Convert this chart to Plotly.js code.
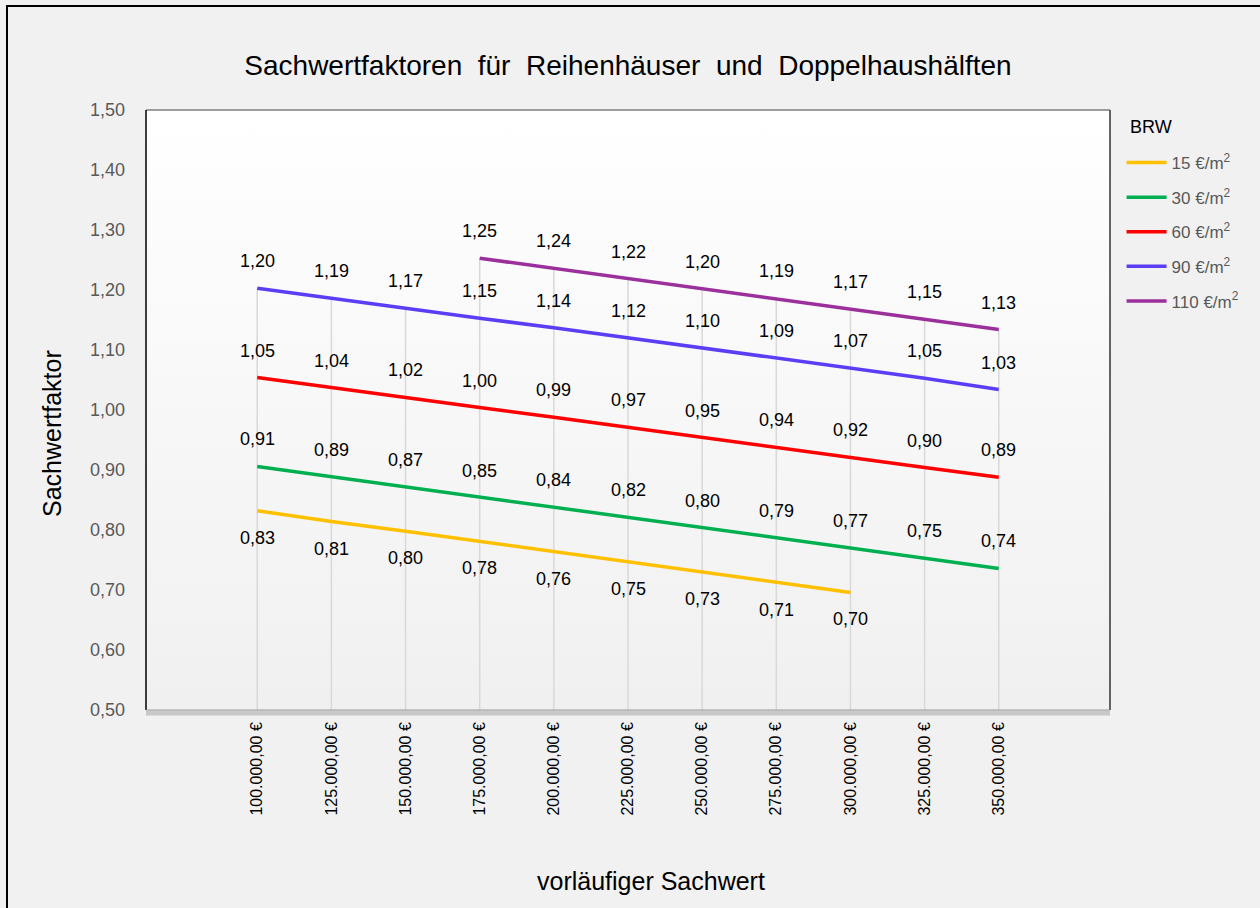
<!DOCTYPE html>
<html>
<head>
<meta charset="utf-8">
<script src="https://cdn.plot.ly/plotly-3.0.1.min.js"></script>
<style>
html,body{margin:0;padding:0;background:#f1f1f1;}
#chart{width:1260px;height:908px;}
#frame{position:absolute;left:6px;top:5px;width:1300px;height:1000px;border-left:2px solid #000;border-top:2px solid #000;pointer-events:none;}
</style>
</head>
<body>
<div id="chart"></div>
<div id="frame"></div>
<script>
// ---- data ----
const sachwert = [100000,125000,150000,175000,200000,225000,250000,275000,300000,325000,350000];
const tickLabels = ["100.000,00 €","125.000,00 €","150.000,00 €","175.000,00 €","200.000,00 €","225.000,00 €","250.000,00 €","275.000,00 €","300.000,00 €","325.000,00 €","350.000,00 €"];
// line values
const brw15  = [0.832,0.814,0.798,0.781,0.764,0.747,0.730,0.712,0.696,null,null];
const brw30  = [0.906,0.889,0.872,0.854,0.838,0.821,0.804,0.787,0.770,0.753,0.736];
const brw60  = [1.054,1.037,1.021,1.004,0.988,0.971,0.954,0.938,0.921,0.904,0.888];
const brw90  = [1.203,1.186,1.170,1.153,1.137,1.120,1.103,1.087,1.070,1.053,1.034];
const brw110 = [null,null,null,1.253,1.236,1.219,1.202,1.186,1.169,1.152,1.134];
// printed data labels
const lbl15  = [0.83,0.81,0.80,0.78,0.76,0.75,0.73,0.71,0.70,null,null];
const lbl30  = [0.91,0.89,0.87,0.85,0.84,0.82,0.80,0.79,0.77,0.75,0.74];
const lbl60  = [1.05,1.04,1.02,1.00,0.99,0.97,0.95,0.94,0.92,0.90,0.89];
const lbl90  = [1.20,1.19,1.17,1.15,1.14,1.12,1.10,1.09,1.07,1.05,1.03];
const lbl110 = [null,null,null,1.25,1.24,1.22,1.20,1.19,1.17,1.15,1.13];
const seriesNames = ["15 €/m<sup>2</sup>","30 €/m<sup>2</sup>","60 €/m<sup>2</sup>","90 €/m<sup>2</sup>","110 €/m<sup>2</sup>"];
const seriesData = [brw15, brw30, brw60, brw90, brw110];
const seriesLabels = [lbl15, lbl30, lbl60, lbl90, lbl110];
const seriesColors = ["#FFC000","#00B050","#FF0000","#5B3DF5","#9B2F9B"];
const labelBelow = [true,false,false,false,false];

const FONT = "Liberation Sans, Arial, sans-serif";
const yMin = 0.5;

// drop lines from axis bottom up to the highest series value per category
const dropX = [], dropY = [];
sachwert.forEach((x, i) => {
  const vals = seriesData.map(s => s[i]).filter(v => v !== null);
  if (vals.length) {
    dropX.push(x, x, null);
    dropY.push(yMin, Math.max(...vals), null);
  }
});

const traces = [{
  x: dropX, y: dropY, mode: 'lines', type: 'scatter',
  line: {color: '#d9d9d9', width: 1.5}, showlegend: false, hoverinfo: 'skip'
}];
seriesData.forEach((s, k) => {
  traces.push({
    x: sachwert, y: s, type: 'scatter', mode: 'lines',
    name: seriesNames[k], legendgroup: 'g' + k,
    line: {color: seriesColors[k], width: 3.5},
    connectgaps: false
  });
});

const fmt = v => v.toFixed(2).replace('.', ',');
const annotations = [];
seriesData.forEach((s, k) => {
  s.forEach((v, i) => {
    if (v === null) return;
    annotations.push({
      x: sachwert[i], y: v, xref: 'x', yref: 'y', text: fmt(seriesLabels[k][i]), showarrow: false,
      yshift: labelBelow[k] ? -27 : 27, font: {family: FONT, size: 18, color: '#000'}
    });
  });
});
annotations.push({
  text: 'Sachwertfaktor', xref: 'paper', yref: 'paper', x: (52 - 146) / 964, y: (710 - 434) / 600,
  textangle: -90, showarrow: false, xanchor: 'center', yanchor: 'middle',
  font: {family: FONT, size: 25, color: '#000'}
});
annotations.push({
  text: 'vorläufiger Sachwert', xref: 'paper', yref: 'paper', x: (651 - 146) / 964, y: (710 - 881) / 600,
  showarrow: false, xanchor: 'center', yanchor: 'middle',
  font: {family: FONT, size: 25, color: '#000'}
});
annotations.push({
  text: 'BRW', xref: 'paper', yref: 'paper', x: (1128 - 146) / 964, y: (710 - 127) / 600,
  showarrow: false, xanchor: 'left', yanchor: 'middle',
  font: {family: FONT, size: 18, color: '#000'}
});

const gradSvg = "data:image/svg+xml;charset=utf-8," + encodeURIComponent(
  '<svg xmlns="http://www.w3.org/2000/svg" width="100" height="100" preserveAspectRatio="none">' +
  '<defs><linearGradient id="g" x1="0" y1="0" x2="0" y2="1"><stop offset="0" stop-color="#ffffff"/><stop offset="1" stop-color="#f0f0f0"/></linearGradient></defs>' +
  '<rect width="100" height="100" fill="url(#g)"/></svg>');

const layout = {
  width: 1260, height: 908,
  paper_bgcolor: '#f1f1f1', plot_bgcolor: 'rgba(0,0,0,0)',
  margin: {l: 146, r: 150, t: 110, b: 198},
  separators: ',.',
  font: {family: FONT},
  title: {text: 'Sachwertfaktoren  für  Reihenhäuser  und  Doppelhaushälften', x: 0.5, xref: 'paper', y: 1 - 65/908, yanchor: 'middle',
          font: {family: FONT, size: 28, color: '#000'}},
  xaxis: {
    range: [62500, 387500], tickvals: sachwert, ticktext: tickLabels, tickangle: -90,
    showgrid: false, zeroline: false, showline: false, ticks: '',
    ticklabelstandoff: 8,
    tickfont: {family: FONT, size: 16, color: '#000'}
  },
  yaxis: {
    range: [0.5, 1.5], dtick: 0.1, tick0: 0.5, tickformat: '.2f',
    showgrid: false, zeroline: false, showline: false, ticks: '',
    ticklabelstandoff: 20,
    tickfont: {family: FONT, size: 18, color: '#595959'}
  },
  legend: {
    x: 1.012, xanchor: 'left', y: (710 - 145) / 600, yanchor: 'top',
    bgcolor: 'rgba(0,0,0,0)', traceorder: 'grouped', tracegroupgap: 9.5,
    itemwidth: 40, font: {family: FONT, size: 17, color: '#595959'}
  },
  images: [{source: gradSvg, xref: 'paper', yref: 'paper', x: 0, y: 1, sizex: 1, sizey: 1,
            sizing: 'stretch', layer: 'below', xanchor: 'left', yanchor: 'top'}],
  shapes: [
    {type: 'line', xref: 'paper', yref: 'paper', x0: 0, x1: 1, y0: -0.005, y1: -0.005, line: {color: '#c8c8c8', width: 5}},
    {type: 'line', xref: 'paper', yref: 'paper', x0: 0, x1: 1, y0: 1, y1: 1, line: {color: '#7f7f7f', width: 1.5}},
    {type: 'line', xref: 'paper', yref: 'paper', x0: 0, x1: 0, y0: 0, y1: 1, line: {color: '#000', width: 1.5}},
    {type: 'line', xref: 'paper', yref: 'paper', x0: 1, x1: 1, y0: 0, y1: 1, line: {color: '#333', width: 1.5}},
    {type: 'line', xref: 'paper', yref: 'paper', x0: 0, x1: 1, y0: 0, y1: 0, line: {color: '#9a9a9a', width: 1}}
  ],
  annotations: annotations
};

Plotly.newPlot('chart', traces, layout, {displayModeBar: false, staticPlot: true});
</script>
</body>
</html>
